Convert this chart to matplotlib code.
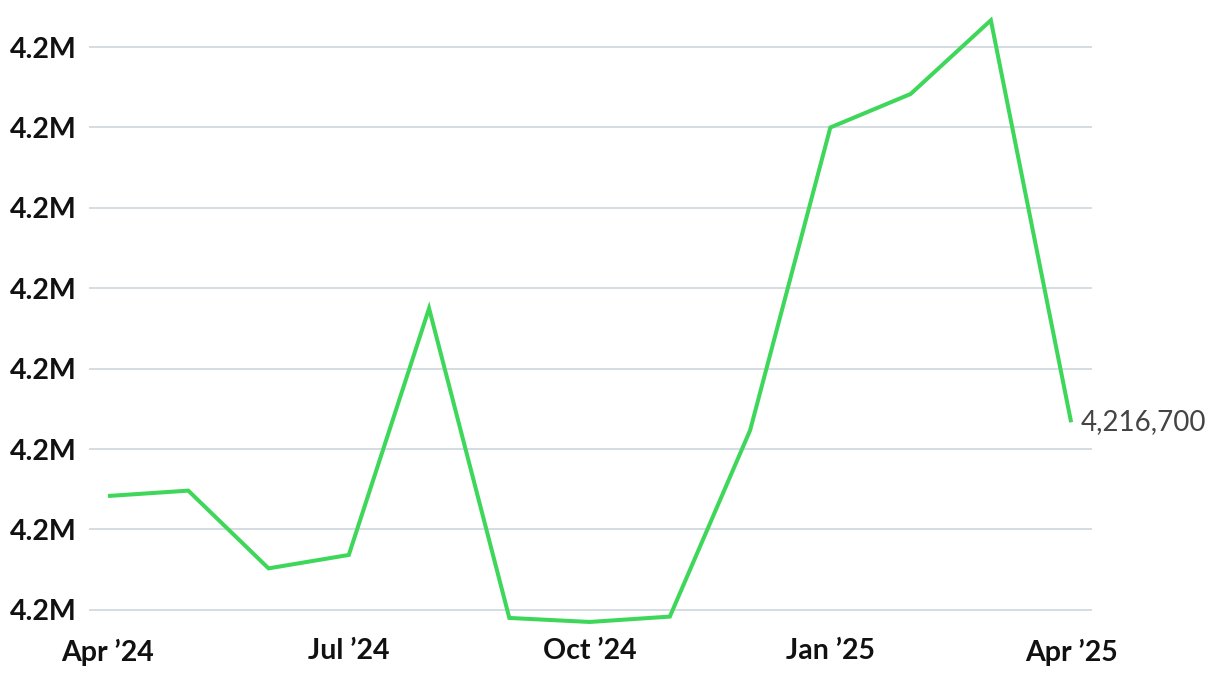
import matplotlib
matplotlib.use("Agg")
import matplotlib.pyplot as plt
from matplotlib.ticker import FixedLocator, FuncFormatter

months = ["Apr '24", "May '24", "Jun '24", "Jul '24", "Aug '24", "Sep '24", "Oct '24",
          "Nov '24", "Dec '24", "Jan '25", "Feb '25", "Mar '25", "Apr '25"]
values = [4216425, 4216445, 4216155, 4216205, 4217125, 4215970, 4215955,
          4215975, 4216670, 4217800, 4217925, 4218200, 4216700]
y_ticks = [4216000, 4216300, 4216600, 4216900, 4217200, 4217500, 4217800, 4218100]
x_tick_idx = [0, 3, 6, 9, 12]
x_tick_labels = ["Apr \u201924", "Jul \u201924", "Oct \u201924", "Jan \u201925", "Apr \u201925"]
last_label = "4,216,700"

W, H = 1220, 678
fig = plt.figure(figsize=(W / 100, H / 100), dpi=100)
left, right, top, bottom = 89, 1092, 5, 630
ax = fig.add_axes([left / W, 1 - bottom / H, (right - left) / W, (bottom - top) / H])

x = list(range(len(values)))
ax.plot(x, values, color="#3ed75a", lw=2.9, solid_joinstyle="miter", solid_capstyle="butt", zorder=3)

ax.set_xlim(-0.237, 12.26)
ax.set_ylim(4215925, 4218257)

ax.yaxis.set_major_locator(FixedLocator(y_ticks))
ax.yaxis.set_major_formatter(FuncFormatter(lambda v, p: f"{v/1e6:.1f}M"))
ax.set_xticks(x_tick_idx)
ax.set_xticklabels(x_tick_labels)

ax.grid(axis="y", color="#d5dde2", lw=1.4)
ax.set_axisbelow(True)
for s in ax.spines.values():
    s.set_visible(False)

ax.tick_params(axis="y", length=0, pad=57, labelsize=20.5, labelcolor="#111111")
for t in ax.get_yticklabels():
    t.set_ha("left")
    t.set_fontweight("bold")
    t.set_fontfamily("Lato")
ax.tick_params(axis="x", length=0, pad=6, labelsize=20.5, labelcolor="#111111")
for t in ax.get_xticklabels():
    t.set_fontweight("bold")
    t.set_fontfamily("Lato")

ax.annotate(last_label, xy=(x[-1], values[-1]), xytext=(7, 0), textcoords="offset points",
            ha="left", va="center", fontsize=20, color="#444444", fontfamily="Lato",
            annotation_clip=False)

fig.savefig("out.png", dpi=100)
